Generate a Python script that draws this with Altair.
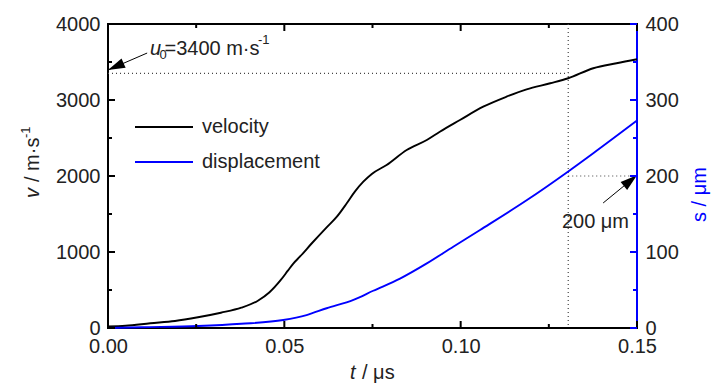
import altair as alt
import pandas as pd

# ---------------- data ----------------
t_velocity = [0.0, 0.005, 0.012, 0.019, 0.0255, 0.032, 0.0378, 0.0425, 0.0458, 0.049,
              0.051, 0.0526, 0.0544, 0.0578, 0.062, 0.0649, 0.0677, 0.0700, 0.0724, 0.0748,
              0.0790, 0.0847, 0.0904, 0.0941, 0.0998, 0.1064, 0.1130, 0.1187, 0.1254, 0.1305,
              0.1376, 0.1442, 0.15]
velocity = [20, 30, 62, 92, 141, 201, 267, 359, 470, 632,
            754, 851, 938, 1115, 1325, 1465, 1641, 1794, 1925, 2027,
            2145, 2343, 2474, 2583, 2737, 2912, 3044, 3141, 3220, 3286,
            3418, 3484, 3536]

t_displacement = [0.0, 0.0094, 0.0255, 0.0378, 0.0497, 0.0563, 0.062, 0.0696, 0.0752,
                  0.0828, 0.0904, 0.0979, 0.1055, 0.1187, 0.1305, 0.1376, 0.15]
displacement = [0, 1, 2.6, 5.5, 10.5, 17, 26, 37, 49, 65, 85, 107, 129, 168, 206, 230, 273]

series_names = ["velocity", "displacement"]

x_major = [0.0, 0.05, 0.10, 0.15]
x_minor = [0.025, 0.075, 0.125]
v_major = [0, 1000, 2000, 3000, 4000]
v_minor = [500, 1500, 2500, 3500]
s_major = [0, 100, 200, 300, 400]
s_minor = [50, 150, 250, 350]

u0_level = 3350        # dotted reference line (labelled u0=3400)
t_marker = 0.1305      # vertical dotted line
s_marker = 200         # displacement marker

# annotation anchors (data coordinates)
u0_arrow_t, u0_arrow_v = [0.0111, 0.0], [3618, 3395]
s_arrow_t, s_arrow_s = [0.1404, 0.15], [164.5, 201]
u0_label_t, u0_label_v = 0.0119, 3592
s_label_t, s_label_s = 0.1287, 131.6

# ---------------- styling ----------------
W, H = 529, 304
FONT = "Liberation Sans"
INK = "#222222"
BLUE = "#0000ff"
xdom, vdom, sdom = [0, 0.15], [0, 4000], [0, 400]
ARROW = "M0,0L-0.6,2L0.6,2Z"

vel_df = pd.DataFrame({"t": t_velocity, "v": velocity})
disp_df = pd.DataFrame({"t": t_displacement, "s": displacement})
one = alt.Data(values=[{}])


def X(field, axis):
    return alt.X(f"{field}:Q", scale=alt.Scale(domain=xdom, nice=False, zero=False), axis=axis)


def Yv(field, axis):
    return alt.Y(f"{field}:Q", scale=alt.Scale(domain=vdom, nice=False), axis=axis)


def Ys(field, axis):
    return alt.Y(f"{field}:Q", scale=alt.Scale(domain=sdom, nice=False), axis=axis)


lab = dict(labelFontSize=20, labelFont=FONT, labelColor=INK, title="", grid=False,
           labelFlush=False, labelOverlap=False, ticks=False, tickSize=0, domain=False,
           labelPadding=8)

ax_bottom = alt.Axis(orient="bottom", values=x_major, format=".2f", **lab)
ax_left = alt.Axis(orient="left", values=v_major, format="d", **lab)
ax_right = alt.Axis(orient="right", values=s_major, format="d", **lab)
ax_right_domain = alt.Axis(orient="right", ticks=False, labels=False, domain=True,
                           domainColor=BLUE, domainWidth=2, translate=0, title="", grid=False)

# ---------------- data layers ----------------
vel_line = alt.Chart(vel_df).mark_line(color="black", strokeWidth=1.9, interpolate="monotone").encode(
    x=X("t", ax_bottom), y=Yv("v", ax_left))

disp_line = alt.Chart(disp_df).mark_line(color=BLUE, strokeWidth=1.9, interpolate="monotone").encode(
    x=X("t", None), y=Ys("s", ax_right))

dot = dict(color="#444444", strokeWidth=1.2, strokeDash=[1, 3])

u0_rule = alt.Chart(pd.DataFrame({"t0": [0.0], "t1": [t_marker], "v": [u0_level]})).mark_rule(**dot).encode(
    x=X("t0", None), x2="t1:Q", y=Yv("v", None))

s_rule = alt.Chart(pd.DataFrame({"t0": [t_marker], "t1": [0.15], "s": [s_marker]})).mark_rule(**dot).encode(
    x=X("t0", None), x2="t1:Q", y=Ys("s", None))

t_rule = alt.Chart(pd.DataFrame({"t": [t_marker]})).mark_rule(**dot).encode(x=X("t", None))

# inward ticks, placed through the scales
tk = dict(color="black", strokeWidth=2)
tkb = dict(color=BLUE, strokeWidth=2)
xM = pd.DataFrame({"t": x_major})
xm = pd.DataFrame({"t": x_minor})
vM = pd.DataFrame({"v": v_major})
vm = pd.DataFrame({"v": v_minor})
sM = pd.DataFrame({"s": s_major})
sm = pd.DataFrame({"s": s_minor})
ticks = [
    alt.Chart(xM).mark_rule(**tk).encode(x=X("t", None), y=alt.value(H), y2=alt.value(H - 7)),
    alt.Chart(xm).mark_rule(**tk).encode(x=X("t", None), y=alt.value(H), y2=alt.value(H - 4)),
    alt.Chart(xM).mark_rule(**tk).encode(x=X("t", None), y=alt.value(0), y2=alt.value(7)),
    alt.Chart(xm).mark_rule(**tk).encode(x=X("t", None), y=alt.value(0), y2=alt.value(4)),
    alt.Chart(vM).mark_rule(**tk).encode(y=Yv("v", None), x=alt.value(0), x2=alt.value(7)),
    alt.Chart(vm).mark_rule(**tk).encode(y=Yv("v", None), x=alt.value(0), x2=alt.value(4)),
    alt.Chart(sM).mark_rule(**tkb).encode(y=Ys("s", None), x=alt.value(W), x2=alt.value(W - 7)),
    alt.Chart(sm).mark_rule(**tkb).encode(y=Ys("s", None), x=alt.value(W), x2=alt.value(W - 4)),
]

# arrows
u0_arrow = alt.Chart(pd.DataFrame({"t0": [u0_arrow_t[0]], "v0": [u0_arrow_v[0]],
                                   "t1": [u0_arrow_t[1]], "v1": [u0_arrow_v[1]]})).mark_rule(
    color="black", strokeWidth=1).encode(x=X("t0", None), y=Yv("v0", None), x2="t1:Q", y2="v1:Q")
u0_head = alt.Chart(pd.DataFrame({"t": [u0_arrow_t[1]], "v": [u0_arrow_v[1]]})).mark_point(
    shape=ARROW, filled=True, size=289, angle=246.4, color="black", opacity=1).encode(
    x=X("t", None), y=Yv("v", None))

s_arrow = alt.Chart(pd.DataFrame({"t0": [s_arrow_t[0]], "s0": [s_arrow_s[0]],
                                  "t1": [s_arrow_t[1]], "s1": [s_arrow_s[1]]})).mark_rule(
    color="black", strokeWidth=1).encode(x=X("t0", None), y=Ys("s0", ax_right_domain), x2="t1:Q", y2="s1:Q")
s_head = alt.Chart(pd.DataFrame({"t": [s_arrow_t[1]], "s": [s_arrow_s[1]]})).mark_point(
    shape=ARROW, filled=True, size=289, angle=50.5, color="black", opacity=1).encode(
    x=X("t", None), y=Ys("s", None))

# annotation text
u0_df = pd.DataFrame({"t": [u0_label_t], "v": [u0_label_v]})
txt = dict(font=FONT, color=INK, align="left", baseline="alphabetic")
u0_u = alt.Chart(u0_df).mark_text(text="u", fontSize=20, fontStyle="italic", **txt).encode(
    x=X("t", None), y=Yv("v", None))
u0_sub = alt.Chart(u0_df).mark_text(text="0", fontSize=13, dx=9.5, dy=4, **txt).encode(
    x=X("t", None), y=Yv("v", None))
u0_main = alt.Chart(u0_df).mark_text(text="=3400 m·s", fontSize=20, dx=14.5, **txt).encode(
    x=X("t", None), y=Yv("v", None))
u0_sup = alt.Chart(u0_df).mark_text(text="-1", fontSize=13, dx=108, dy=-11, **txt).encode(
    x=X("t", None), y=Yv("v", None))

s_lab = alt.Chart(pd.DataFrame({"t": [s_label_t], "s": [s_label_s]})).mark_text(
    text="200 μm", fontSize=20, **txt).encode(x=X("t", None), y=Ys("s", None))

# legend (manual)
leg_v_line = alt.Chart(one).mark_rule(color="black", strokeWidth=1.9).encode(
    x=alt.value(27), x2=alt.value(85), y=alt.value(103))
leg_d_line = alt.Chart(one).mark_rule(color=BLUE, strokeWidth=1.9).encode(
    x=alt.value(27), x2=alt.value(85), y=alt.value(138))
leg_v_txt = alt.Chart(one).mark_text(text=series_names[0], fontSize=20, font=FONT, color=INK,
                                     align="left", baseline="middle").encode(
    x=alt.value(94), y=alt.value(103))
leg_d_txt = alt.Chart(one).mark_text(text=series_names[1], fontSize=20, font=FONT, color=INK,
                                     align="left", baseline="middle").encode(
    x=alt.value(94), y=alt.value(138))

# axis titles (rich text composed from pieces)
tt = dict(font=FONT, fontSize=20, align="left", baseline="middle", angle=270)
ytitle_v = alt.Chart(one).mark_text(text="v", fontStyle="italic", color=INK, **tt).encode(
    x=alt.value(-75), y=alt.value(174))
ytitle_rest = alt.Chart(one).mark_text(text="/ m·s", color=INK, dx=16, **tt).encode(
    x=alt.value(-75), y=alt.value(174))
ytitle_sup = alt.Chart(one).mark_text(text="-1", color=INK, font=FONT, fontSize=13, align="left",
                                      baseline="middle", angle=270, dx=60, dy=-7).encode(
    x=alt.value(-75), y=alt.value(174))

xt = dict(font=FONT, fontSize=20, align="left", baseline="alphabetic", color=INK)
xtitle_t = alt.Chart(one).mark_text(text="t", fontStyle="italic", **xt).encode(
    x=alt.value(242), y=alt.value(355))
xtitle_rest = alt.Chart(one).mark_text(text="/ μs", dx=12, **xt).encode(
    x=alt.value(242), y=alt.value(355))

rtitle = alt.Chart(one).mark_text(text="s / μm", color=BLUE, **tt).encode(
    x=alt.value(592), y=alt.value(198))

chart = alt.layer(
    t_rule, u0_rule, s_rule,
    vel_line, disp_line,
    u0_arrow, u0_head, s_arrow, s_head,
    u0_u, u0_sub, u0_main, u0_sup, s_lab,
    leg_v_line, leg_d_line, leg_v_txt, leg_d_txt,
    ytitle_v, ytitle_rest, ytitle_sup, xtitle_t, xtitle_rest, rtitle,
    *ticks,
).resolve_scale(y="independent").resolve_axis(x="independent", y="independent").properties(
    width=W, height=H,
    autosize=alt.AutoSizeParams(type="none"),
    padding={"left": 100, "top": 16, "right": 80, "bottom": 60},
    background="white",
).configure_view(stroke="black", strokeWidth=2)

chart.save("out.html", embed_options={"renderer": "svg", "actions": False})
